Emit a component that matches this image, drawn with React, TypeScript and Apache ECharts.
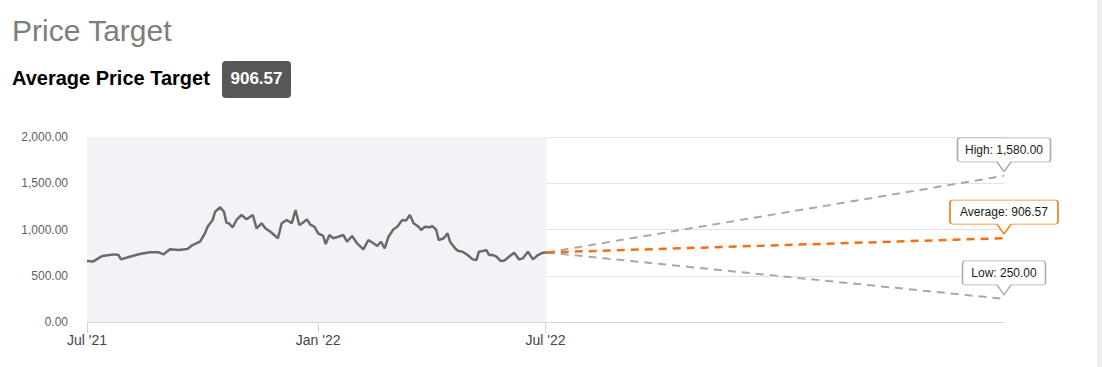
import { useEffect, useRef } from "react";
import * as echarts from "echarts";

// ---- data ----
const priceDates = [
  "2021-07-01", "2021-07-06", "2021-07-09", "2021-07-13", "2021-07-19", "2021-07-23", "2021-07-26", "2021-07-28",
  "2021-08-04", "2021-08-12", "2021-08-20", "2021-08-27", "2021-08-31", "2021-09-05", "2021-09-12", "2021-09-19",
  "2021-09-23", "2021-09-29", "2021-10-03", "2021-10-05", "2021-10-09", "2021-10-11", "2021-10-15", "2021-10-18",
  "2021-10-20", "2021-10-22", "2021-10-25", "2021-10-28", "2021-11-01", "2021-11-05", "2021-11-10", "2021-11-13",
  "2021-11-17", "2021-11-20", "2021-11-24", "2021-11-27", "2021-11-30", "2021-12-03", "2021-12-07", "2021-12-11",
  "2021-12-14", "2021-12-17", "2021-12-20", "2021-12-23", "2021-12-26", "2021-12-29", "2022-01-01", "2022-01-05",
  "2022-01-07", "2022-01-10", "2022-01-13", "2022-01-17", "2022-01-21", "2022-01-24", "2022-01-28", "2022-02-01",
  "2022-02-06", "2022-02-10", "2022-02-14", "2022-02-17", "2022-02-20", "2022-02-23", "2022-02-26", "2022-03-02",
  "2022-03-05", "2022-03-09", "2022-03-12", "2022-03-15", "2022-03-18", "2022-03-22", "2022-03-24", "2022-03-27",
  "2022-03-31", "2022-04-02", "2022-04-05", "2022-04-07", "2022-04-11", "2022-04-14", "2022-04-16", "2022-04-20",
  "2022-04-22", "2022-04-26", "2022-04-30", "2022-05-04", "2022-05-07", "2022-05-09", "2022-05-13", "2022-05-15",
  "2022-05-17", "2022-05-20", "2022-05-23", "2022-05-26", "2022-05-29", "2022-06-02", "2022-06-06", "2022-06-10",
  "2022-06-13", "2022-06-17", "2022-06-21", "2022-06-25", "2022-06-29", "2022-07-02",
];
const priceValues = [
  660, 655, 680, 713, 724, 731, 725, 677,
  706, 735, 753, 753, 731, 786, 778, 789,
  832, 868, 962, 1030, 1103, 1192, 1240, 1192,
  1074, 1065, 1024, 1103, 1157, 1110, 1157, 1013,
  1067, 1013, 976, 941, 905, 1067, 1103, 1067,
  1211, 1049, 1074, 1110, 1049, 1030, 959, 930,
  843, 941, 905, 922, 941, 868, 930, 851,
  786, 886, 851, 822, 868, 797, 922, 1002,
  1030, 1103, 1096, 1157, 1067, 1030, 995, 1030,
  1024, 1038, 995, 886, 905, 959, 868, 797,
  771, 760, 724, 677, 670, 760, 771, 778,
  724, 724, 706, 663, 663, 706, 749, 677,
  688, 760, 677, 724, 749, 752,
];
const historyStart = "2021-07-01";
const forecastStart = "2022-07-02";
const forecastEnd = "2023-07-01";
const targetNames = ["High", "Average", "Low"];
const targetValues = [1580, 906.57, 250];
const averageTarget = 906.57;
const yTicks = [0, 500, 1000, 1500, 2000];
const xTickDates = ["2021-07-01", "2022-01-01", "2022-07-01"];
const xTickLabels = ["Jul '21", "Jan '22", "Jul '22"];

// ---- helpers ----
const ts = (s: string) => {
  const [y, m, d] = s.split("-").map(Number);
  return Date.UTC(y, m - 1, d);
};
const fmt2 = (v: number) =>
  v.toLocaleString("en-US", { minimumFractionDigits: 2, maximumFractionDigits: 2 });

const FONT = "'Liberation Sans', Arial, Helvetica, sans-serif";

const callout = (w: number) => {
  const h = 24;
  const m = w / 2;
  return `path://M3,0 L${w - 3},0 Q${w},0 ${w},3 L${w},${h - 3} Q${w},${h} ${w - 3},${h} L${m + 7},${h} L${m},${h + 10} L${m - 7},${h} L3,${h} Q0,${h} 0,${h - 3} L0,3 Q0,0 3,0 Z`;
};

const lineColors = ["#a8a8a8", "#f7700f", "#a8a8a8"];
const boxBorders = ["#aaaaaa", "#f5841f", "#aaaaaa"];
const boxWidths = [93, 108, 83];

export default function App() {
  const ref = useRef<HTMLDivElement>(null);

  useEffect(() => {
    if (!ref.current) return;
    const chart = echarts.init(ref.current, undefined, { renderer: "svg" });

    const lastPrice = priceValues[priceValues.length - 1];
    const tickVals = xTickDates.map(ts);

    const forecastSeries = targetNames.map((name, i) => ({
      type: "line",
      name,
      data: [
        [ts(forecastStart), lastPrice],
        [ts(forecastEnd), targetValues[i]],
      ],
      symbol: "none",
      silent: true,
      z: i === 1 ? 4 : 3,
      lineStyle: {
        color: lineColors[i],
        width: i === 1 ? 2.5 : 2,
        type: [8, 6],
      },
      markPoint: {
        silent: true,
        z: 10,
        data: [
          {
            coord: [ts(forecastEnd), targetValues[i]],
            symbol: callout(boxWidths[i]),
            symbolSize: [boxWidths[i], 34],
            symbolOffset: [0, -21],
            itemStyle: { color: "#ffffff", borderColor: boxBorders[i], borderWidth: 1 },
            label: {
              show: true,
              position: "inside",
              offset: [0, -5],
              formatter: `${name}: ${fmt2(targetValues[i])}`,
              color: "#1a1a1a",
              fontSize: 12,
              fontFamily: FONT,
            },
          },
        ],
      },
    }));

    chart.setOption({
      animation: false,
      textStyle: { fontFamily: FONT },
      grid: { left: 87, right: 98, top: 137, bottom: 45 },
      xAxis: {
        type: "value",
        min: ts(historyStart),
        max: ts(forecastEnd),
        axisLine: { show: true, lineStyle: { color: "#d4d4d4", width: 1 } },
        axisTick: {
          show: true,
          length: 11,
          lineStyle: { color: "#d4d4d4" },
          customValues: tickVals,
        },
        axisLabel: {
          show: true,
          customValues: tickVals,
          formatter: (v: number) => {
            const idx = tickVals.indexOf(v);
            return idx >= 0 ? xTickLabels[idx] : "";
          },
          color: "#444444",
          fontSize: 14,
          fontFamily: FONT,
          margin: 11,
          hideOverlap: false,
          showMinLabel: true,
          showMaxLabel: true,
        },
        splitLine: { show: false },
      },
      yAxis: {
        type: "value",
        min: yTicks[0],
        max: yTicks[yTicks.length - 1],
        interval: 500,
        axisLine: { show: false },
        axisTick: { show: false },
        axisLabel: {
          formatter: (v: number) => fmt2(v),
          color: "#5f5f5f",
          fontSize: 12,
          fontFamily: FONT,
          margin: 19,
        },
        splitLine: { lineStyle: { color: "#e3e3e3", width: 1 } },
      },
      series: [
        {
          type: "line",
          name: "Price",
          data: priceDates.map((d, i) => [ts(d), priceValues[i]]),
          symbol: "none",
          silent: true,
          z: 5,
          lineStyle: { color: "#6a6a6a", width: 2.5 },
          markArea: {
            silent: true,
            itemStyle: { color: "#f2f3f7" },
            data: [[{ xAxis: ts(historyStart) }, { xAxis: ts(forecastStart) }]],
          },
        },
        ...forecastSeries,
      ],
      graphic: [
        {
          type: "rect",
          shape: { x: 1097, y: 0, width: 5, height: 367 },
          style: { fill: "#f0f0f0" },
          silent: true,
        },
        {
          type: "text",
          style: {
            x: 12,
            y: 30,
            text: "Price Target",
            font: `30px ${FONT}`,
            fill: "#7d7d7d",
            textVerticalAlign: "middle",
          },
        },
        {
          type: "text",
          style: {
            x: 12,
            y: 77.5,
            text: "Average Price Target",
            font: `bold 20px ${FONT}`,
            fill: "#000000",
            textVerticalAlign: "middle",
          },
        },
        {
          type: "rect",
          shape: { x: 222, y: 61, width: 69, height: 37, r: 4 },
          style: { fill: "#575757" },
        },
        {
          type: "text",
          style: {
            x: 256.5,
            y: 78.5,
            text: fmt2(averageTarget),
            font: `bold 17px ${FONT}`,
            fill: "#ffffff",
            textAlign: "center",
            textVerticalAlign: "middle",
          },
        },
      ],
    });

    return () => chart.dispose();
  }, []);

  return (
    <div
      ref={ref}
      style={{ position: "absolute", left: 0, top: 0, width: 1102, height: 367, background: "#ffffff" }}
    />
  );
}
